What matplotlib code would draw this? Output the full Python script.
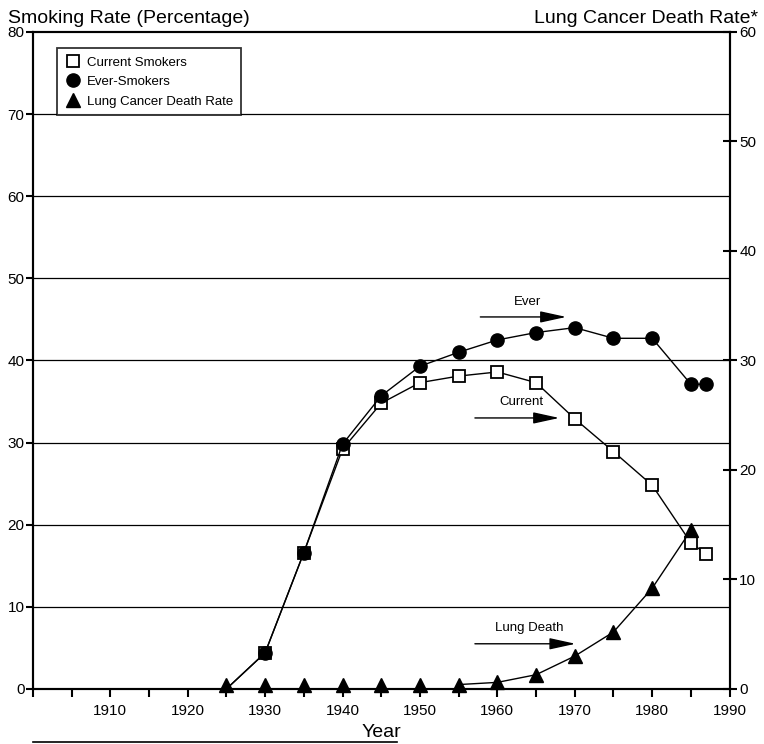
import numpy as np
import matplotlib.pyplot as plt

plt.rcParams['font.family'] = ['Liberation Sans', 'DejaVu Sans']

years = [1925, 1930, 1935, 1940, 1945, 1950, 1955, 1960, 1965, 1970, 1975, 1980, 1985, 1987]
current = [0, 4.4, 16.6, 29.2, 34.8, 37.3, 38.1, 38.6, 37.3, 32.9, 28.9, 24.8, 17.8, 16.4]
ever = [0, 4.4, 16.6, 29.8, 35.7, 39.3, 41.0, 42.5, 43.4, 44.0, 42.7, 42.7, 37.1, 37.1]

death_years = [1925, 1930, 1935, 1940, 1945, 1950, 1955, 1960, 1965, 1970, 1975, 1980, 1985]
death_rate = [0.4, 0.4, 0.4, 0.4, 0.4, 0.4, 0.4, 0.6, 1.3, 3.0, 5.2, 9.2, 14.5]

fig = plt.figure(figsize=(7.64, 7.44), dpi=100)
ax = fig.add_axes([0.043, 0.074, 0.912, 0.883])
ax2 = ax.twinx()

# grid lines
for g in range(10, 80, 10):
    ax.axhline(g, color='black', lw=0.9, zorder=1)

ax.plot(years, current, color='black', lw=1, marker='s', ms=8, mfc='white',
        mec='black', mew=1.3, markevery=list(range(1, len(years))), zorder=3)
ax.plot(years, ever, color='black', lw=1, marker='o', ms=9.5, mfc='black',
        mec='black', markevery=list(range(1, len(years))), zorder=4)

# death rate: line only where it rises, triangles everywhere
ax2.plot(death_years[6:], death_rate[6:], color='black', lw=1, zorder=5)
ax2.plot(death_years, death_rate, ls='none', marker='^', ms=10,
         mfc='black', mec='black', zorder=5, clip_on=False)

ax.set_xlim(1900, 1990)
ax.set_ylim(0, 80)
ax2.set_ylim(0, 60)

ax.set_xticks(range(1900, 1991, 5))
ax.set_xticklabels(['' if y % 10 or y == 1900 else str(y) for y in range(1900, 1991, 5)])
ax.set_yticks(range(0, 81, 10))
ax2.set_yticks(range(0, 61, 10))

ax.tick_params(axis='x', direction='out', length=6, width=1.5, labelsize=11, pad=5)
ax.tick_params(axis='y', direction='out', length=5, width=1.5, labelsize=11, pad=1)
ax2.tick_params(axis='y', direction='inout', length=10, width=1.5, labelsize=11, pad=2)

for a in (ax, ax2):
    for s in a.spines.values():
        s.set_linewidth(1.5)

ax.set_xlabel('Year', fontsize=14, labelpad=4)

fig.text(0.01, 0.975, 'Smoking Rate (Percentage)', fontsize=14, ha='left', va='center')
fig.text(0.992, 0.975, 'Lung Cancer Death Rate*', fontsize=14, ha='right', va='center')

# legend (markers only)
h_cur = plt.Line2D([], [], ls='none', marker='s', ms=8, mfc='white', mec='black', mew=1.3)
h_ever = plt.Line2D([], [], ls='none', marker='o', ms=9.5, mfc='black', mec='black')
h_death = plt.Line2D([], [], ls='none', marker='^', ms=10, mfc='black', mec='black')
leg = ax.legend([h_cur, h_ever, h_death],
                ['Current Smokers', 'Ever-Smokers', 'Lung Cancer Death Rate'],
                loc='upper left', bbox_to_anchor=(0.025, 0.985), fontsize=9.5,
                frameon=True, fancybox=False, edgecolor='black', handletextpad=0.5,
                borderpad=0.6, labelspacing=0.55, handlelength=1.2)
leg.get_frame().set_linewidth(1.3)
leg.set_zorder(10)

# arrows with labels
arrows = [('Ever', 1957.8, 1968.9, 45.3, 46.4),
          ('Current', 1957.1, 1968.0, 33.0, 34.2),
          ('Lung Death', 1957.1, 1970.1, 5.5, 6.7)]
for txt, x0, x1, y, ty in arrows:
    ax.annotate('', xy=(x1, y), xytext=(x0, y),
                arrowprops=dict(arrowstyle='-|>,head_length=1.6,head_width=0.35',
                                color='black', lw=1, shrinkA=0, shrinkB=0))
    ax.text((x0 + x1) / 2 + 0.5, ty, txt, fontsize=9.5, ha='center', va='bottom')

# footnote rule
fig.add_artist(plt.Line2D([0.043, 0.52], [0.003, 0.003], color='black', lw=1.2))

fig.savefig('out.png', dpi=100)
